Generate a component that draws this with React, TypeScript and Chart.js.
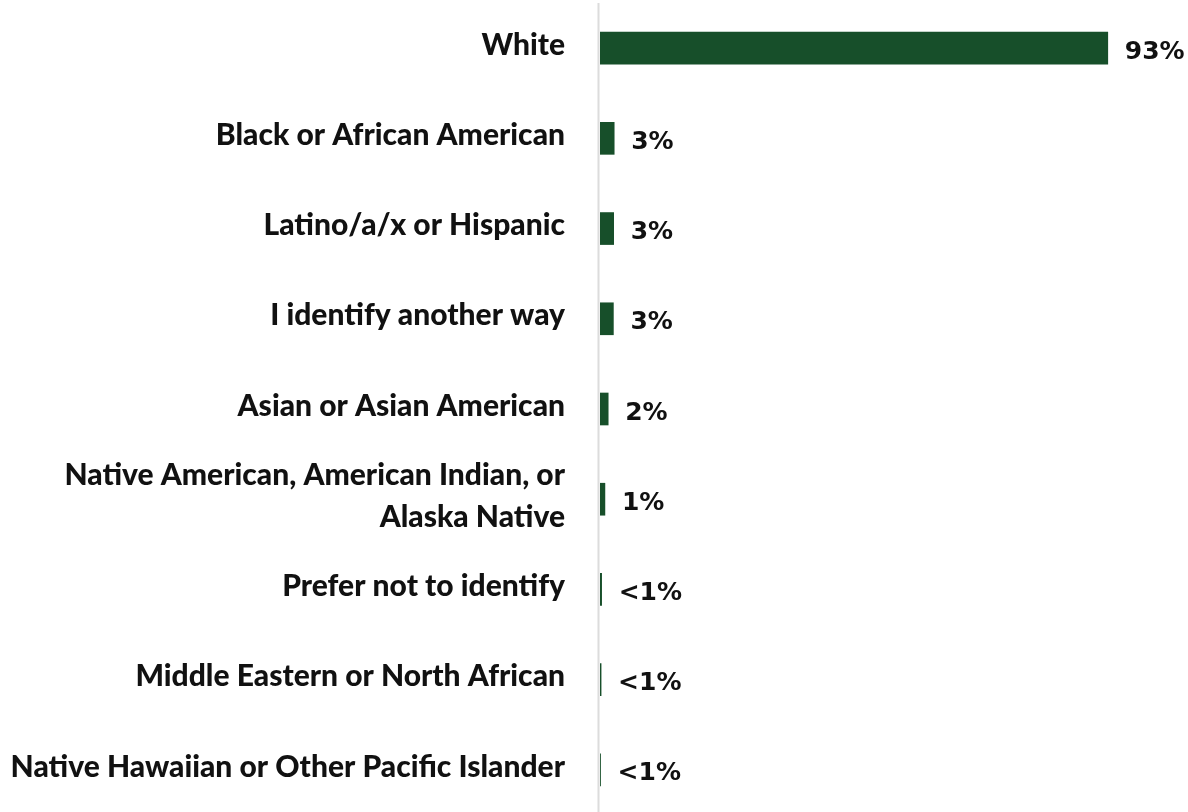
import React, { useEffect, useRef } from "react";
import { Chart, registerables } from "chart.js";

Chart.register(...registerables);

const categories: (string | string[])[] = [
  "White",
  "Black or African American",
  "Latino/a/x or Hispanic",
  "I identify another way",
  "Asian or Asian American",
  ["Native American, American Indian, or", "Alaska Native"],
  "Prefer not to identify",
  "Middle Eastern or North African",
  "Native Hawaiian or Other Pacific Islander",
];

const values: number[] = [93, 2.6, 2.5, 2.45, 1.5, 0.9, 0.3, 0.2, 0.1];

const valueLabels: string[] = ["93%", "3%", "3%", "3%", "2%", "1%", "<1%", "<1%", "<1%"];

const BAR_COLOR = "#174f2a";

const valueLabelPlugin = {
  id: "valueLabels",
  afterDatasetsDraw(chart: any) {
    const ctx = chart.ctx;
    const meta = chart.getDatasetMeta(0);
    ctx.save();
    ctx.fillStyle = "#111111";
    ctx.font = "bold 25px 'DejaVu Sans'";
    ctx.textAlign = "left";
    ctx.textBaseline = "middle";
    meta.data.forEach((bar: any, i: number) => {
      ctx.fillText(valueLabels[i], bar.x + 17, bar.y + 4);
    });
    ctx.restore();
  },
};

const axisLinePlugin = {
  id: "axisLine",
  beforeDatasetsDraw(chart: any) {
    const ctx = chart.ctx;
    const area = chart.chartArea;
    ctx.save();
    ctx.fillStyle = "#dcdcdc";
    ctx.fillRect(area.left - 2.5, area.top, 2, chart.height - area.top);
    ctx.restore();
  },
};

export default function App() {
  const canvasRef = useRef<HTMLCanvasElement | null>(null);

  useEffect(() => {
    if (!canvasRef.current) return;
    const chart = new Chart(canvasRef.current, {
      type: "bar",
      data: {
        labels: categories,
        datasets: [
          {
            data: values,
            backgroundColor: BAR_COLOR,
            borderWidth: 0,
            barThickness: 32,
          },
        ],
      },
      options: {
        indexAxis: "y",
        animation: false,
        responsive: true,
        maintainAspectRatio: false,
        layout: { padding: { top: 3, right: 42, bottom: 0, left: 0 } },
        plugins: {
          legend: { display: false },
          tooltip: { enabled: false },
        },
        scales: {
          x: {
            display: false,
            min: 0,
            max: 100,
          },
          y: {
            afterFit(scale: any) {
              scale.width = 600;
              scale.paddingTop = 0;
              scale.paddingBottom = 0;
            },
            grid: { display: false, drawTicks: false },
            border: { display: false },
            ticks: {
              padding: 35,
              labelOffset: -3,
              color: "#111111",
              font: { family: "Lato", weight: 900, size: 30, lineHeight: 1.4 },
            },
          },
        },
      },
      plugins: [axisLinePlugin, valueLabelPlugin],
    });
    return () => chart.destroy();
  }, []);

  return (
    <div
      style={{
        position: "fixed",
        left: 0,
        top: 0,
        width: 1188,
        height: 812,
        overflow: "hidden",
        background: "#ffffff",
      }}
    >
      <div style={{ position: "relative", width: 1188, height: 815 }}>
        <canvas ref={canvasRef} />
      </div>
    </div>
  );
}
